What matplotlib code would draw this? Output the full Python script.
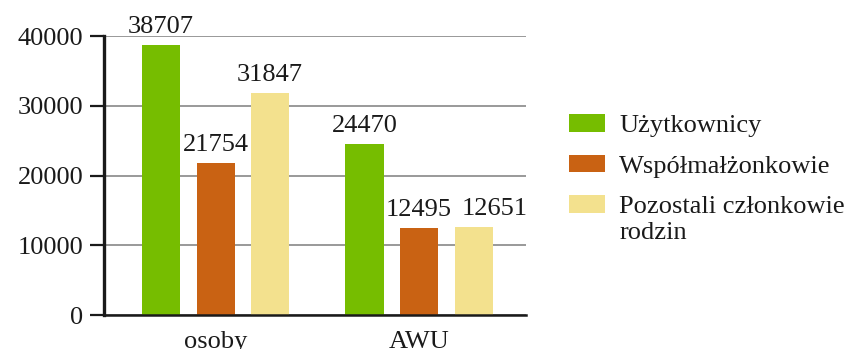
import numpy as np
import matplotlib
matplotlib.use("Agg")
from matplotlib import pyplot as plt

# dane: liczba osób i AWU wg kategorii członków gospodarstwa
groups = ["osoby", "AWU"]
series_names = ["Użytkownicy", "Współmałżonkowie", "Pozostali członkowie"]
name_second_line = "rodzin"
uzytkownicy = [38707, 24470]
wspolmalzonkowie = [21754, 12495]
pozostali = [31847, 12651]
yticks = [0, 10000, 20000, 30000, 40000]

colors = ["#76BD00", "#C96213", "#F3E18E"]
# przesunięcie etykiet w poziomie (pt), żeby 12495 i 12651 na siebie nie wchodziły
label_shift = [[0, 0], [0, 0], [0, 15]]

FS = 19
plt.rcParams["font.family"] = ["Liberation Serif", "DejaVu Serif"]
plt.rcParams["font.size"] = FS

fig = plt.figure(figsize=(8.5, 3.49), dpi=100)
ax = fig.add_axes([0.1224, 0.0974, 0.4965, 0.7994])

x = np.arange(len(groups))
width = 0.187
offset = 0.268
for i, (vals, name, col) in enumerate(zip([uzytkownicy, wspolmalzonkowie, pozostali], series_names, colors)):
    b = ax.bar(x + (i - 1) * offset, vals, width, color=col, label=name, zorder=3)
    for j, (rect, v) in enumerate(zip(b, vals)):
        ax.annotate(str(v), (rect.get_x() + rect.get_width() / 2, v),
                    xytext=(label_shift[i][j], 5), textcoords="offset points",
                    ha="center", va="bottom", fontsize=FS, color="#1a1a1a",
                    annotation_clip=False)

ax.set_xlim(-0.548, 1.526)
ax.set_ylim(0, 40000)
ax.set_yticks(yticks)
ax.set_yticklabels([str(t) for t in yticks])
ax.set_xticks(x)
ax.set_xticklabels(groups)
ax.tick_params(axis="x", length=0, pad=11.5, labelsize=FS, labelcolor="#1a1a1a")
ax.tick_params(axis="y", length=10, width=1.6, color="#1a1a1a", pad=5,
               labelsize=FS, labelcolor="#1a1a1a")

ax.yaxis.grid(True, color="#888888", linewidth=1.2, zorder=0)
for s in ["top", "right"]:
    ax.spines[s].set_visible(False)
ax.spines["left"].set_linewidth(2.4)
ax.spines["left"].set_color("#1a1a1a")
ax.spines["bottom"].set_linewidth(1.8)
ax.spines["bottom"].set_color("#1a1a1a")
ax.spines["left"].set_zorder(4)
ax.spines["bottom"].set_zorder(4)

leg = fig.legend(loc="upper left", bbox_to_anchor=(0.669, 0.672), frameon=False,
                 fontsize=FS, handlelength=1.36, handleheight=0.64,
                 handletextpad=0.55, labelspacing=0.66, borderpad=0,
                 borderaxespad=0, labelcolor="#1a1a1a")

# druga linia ostatniej pozycji legendy, pod tekstem, z kwadratem przy pierwszej linii
fig.canvas.draw()
ax.annotate(name_second_line, xy=(0, 0), xycoords=leg.get_texts()[2],
            xytext=(0, -3), textcoords="offset points",
            ha="left", va="top", fontsize=FS, color="#1a1a1a",
            annotation_clip=False)

fig.savefig("out.png", dpi=100)
